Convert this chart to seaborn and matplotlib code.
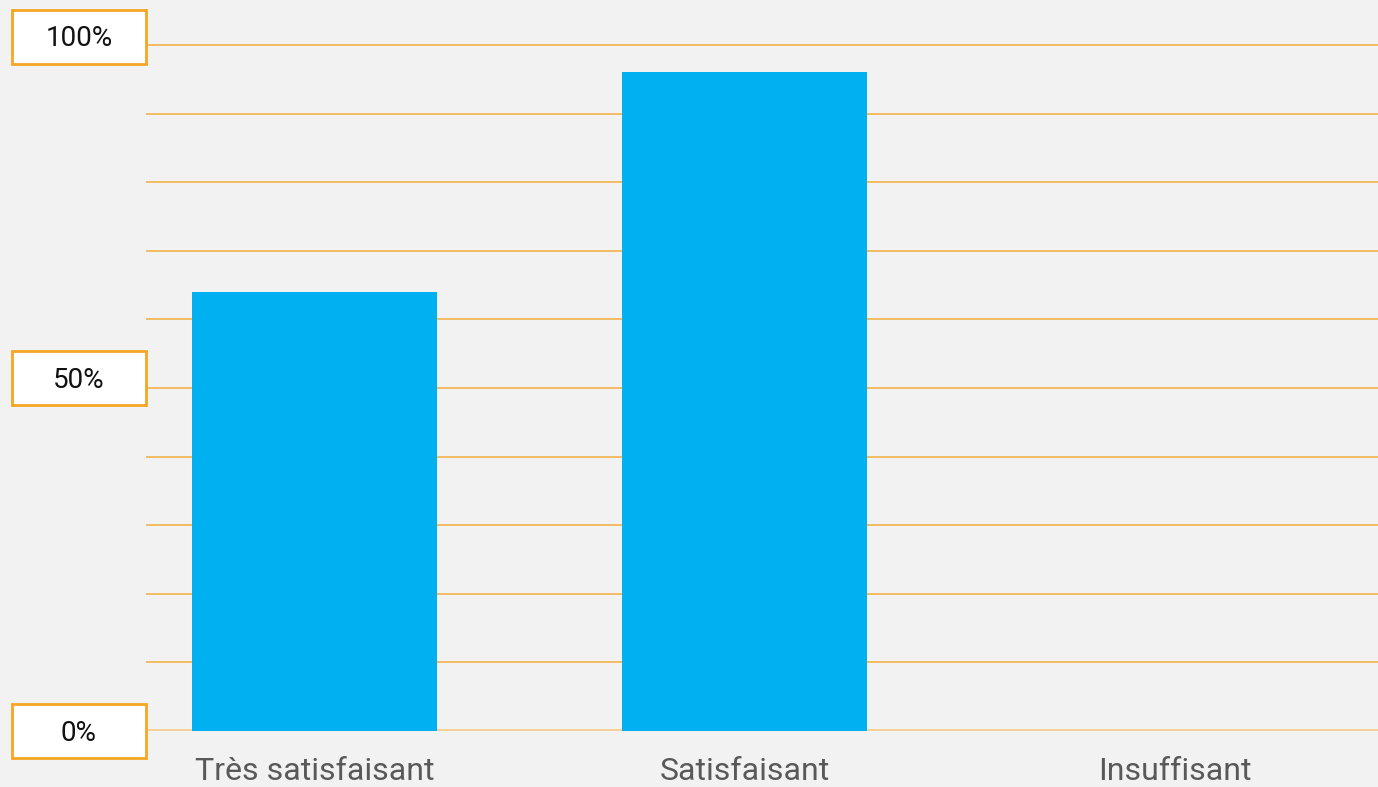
import matplotlib
matplotlib.use("Agg")
import matplotlib.pyplot as plt
import matplotlib.transforms as mtransforms
from matplotlib.patches import Rectangle
import pandas as pd
import seaborn as sns

# Données
categories = ["Très satisfaisant", "Satisfaisant", "Insuffisant"]
shares = [0.64, 0.96, 0.0]
label_ticks = [1.0, 0.5, 0.0]
label_texts = ["100%", "50%", "0%"]

BG = "#f2f2f2"
BAR = "#00b0f0"
ORANGE = "#f5a623"
GRID = "#f4ae3d"

sns.set_theme(style="white")
plt.rcParams["font.family"] = ["Roboto", "DejaVu Sans"]

df = pd.DataFrame({"Categorie": categories, "Part": shares})

fig = plt.figure(figsize=(13.78, 7.87), dpi=100, facecolor=BG)
# l'axe va un peu au-dessus de 100 % pour ne pas couper la ligne du haut
ax = fig.add_axes([146 / 1378, 56 / 787, 1 - 146 / 1378, 690 / 787])
ax.set_facecolor(BG)

# quadrillage tous les 10 %
for i in range(1, 11):
    ax.axhline(i / 10, color=GRID, linewidth=1.1, zorder=0)
ax.axhline(-0.002, color="#d9d9d9", linewidth=2.5, zorder=0)
ax.axhline(0.0015, color="#f7c77e", linewidth=1.1, zorder=1)

sns.barplot(data=df, x="Categorie", y="Part", color=BAR, width=0.57,
            saturation=1, linewidth=0, ax=ax, zorder=2)

ax.set_xlim(-0.392, 2.473)
ax.set_ylim(0, 690 / 686)
for s in ax.spines.values():
    s.set_visible(False)
ax.set_yticks([])
ax.set_xlabel("")
ax.set_ylabel("")
ax.tick_params(axis="x", length=0, pad=19, labelsize=23, labelcolor="#595959")

# étiquettes encadrées à gauche
trans = mtransforms.blended_transform_factory(fig.transFigure, ax.transData)
nudges = [0.012, 0.014, 0.0]
box_h = 54 / 686
for v, txt, dv in zip(label_ticks, label_texts, nudges):
    yc = v + dv
    ax.add_patch(Rectangle((12 / 1378, yc - box_h / 2), 134 / 1378, box_h,
                           transform=trans, facecolor="white", edgecolor=ORANGE,
                           linewidth=2, clip_on=False, zorder=5))
    ax.text(79 / 1378, yc - 0.003, txt, transform=trans, ha="center", va="center",
            fontsize=20, color="#111111", zorder=6, clip_on=False)

fig.savefig("out.png", dpi=100, facecolor=BG)
